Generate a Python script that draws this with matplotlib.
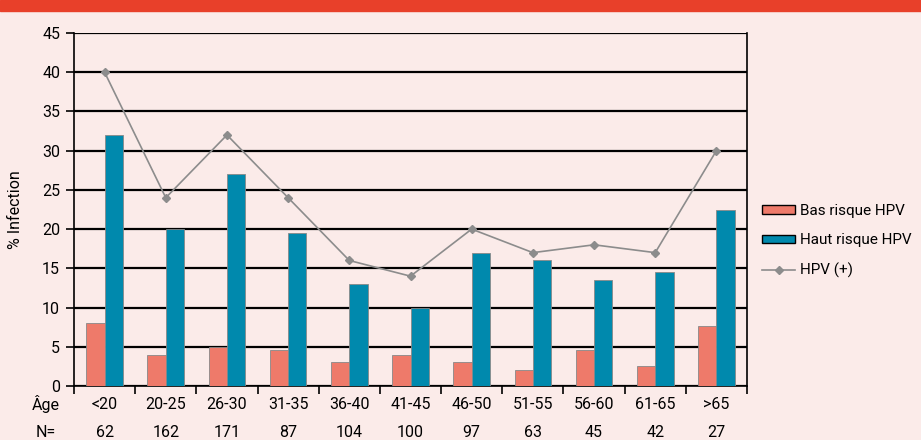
import numpy as np
import matplotlib.pyplot as plt
from matplotlib.patches import Rectangle
from matplotlib.lines import Line2D
import matplotlib.transforms as mtransforms

plt.rcParams['font.family'] = ['Roboto', 'DejaVu Sans']

ages = ['<20', '20-25', '26-30', '31-35', '36-40', '41-45', '46-50', '51-55', '56-60', '61-65', '>65']
n_vals = ['62', '162', '171', '87', '104', '100', '97', '63', '45', '42', '27']
bas_risque = [8, 4, 5, 4.6, 3, 4, 3, 2, 4.6, 2.6, 7.6]
haut_risque = [32, 20, 27, 19.5, 13, 10, 17, 16, 13.5, 14.5, 22.5]
hpv_pos = [40, 24, 32, 24, 16, 14, 20, 17, 18, 17, 30]

bg = '#fbebe9'
c_bas = '#ee7a6a'
c_haut = '#0089ad'
c_line = '#8c8c8c'

fig = plt.figure(figsize=(9.21, 4.40), dpi=100, facecolor=bg)
# red banner at top
fig.patches.append(Rectangle((0, 1 - 11 / 440), 1, 11 / 440, transform=fig.transFigure,
                             color='#e8402a', zorder=0))

ax = fig.add_axes([74 / 921, 1 - 386 / 440, (747 - 74) / 921, (386 - 33) / 440])
ax.set_facecolor(bg)

x = np.arange(len(ages))
w = 0.3
ax.bar(x - w / 2, bas_risque, w, color=c_bas, edgecolor='#888888', linewidth=0.6, zorder=3)
ax.bar(x + w / 2, haut_risque, w, color=c_haut, edgecolor='#888888', linewidth=0.6, zorder=3)
ax.plot(x, hpv_pos, color=c_line, linewidth=1.2, marker='D', markersize=4,
        markerfacecolor=c_line, markeredgecolor=c_line, zorder=4)

ax.set_xlim(-0.5, len(ages) - 0.5)
ax.set_ylim(0, 45)
ax.set_yticks(np.arange(0, 46, 5))
ax.yaxis.grid(True, color='black', linewidth=1.6, zorder=1)
ax.set_axisbelow(True)
ax.tick_params(axis='y', direction='out', length=6, width=1.2, labelsize=11.5, pad=4)

ax.set_xticks(np.arange(-0.5, len(ages), 1))
ax.set_xticklabels([])
ax.tick_params(axis='x', direction='out', length=6, width=1.2)

for s in ['left', 'right', 'bottom']:
    ax.spines[s].set_linewidth(1.2)
ax.spines['top'].set_visible(False)

trans = mtransforms.blended_transform_factory(ax.transData, fig.transFigure)
for i in range(len(ages)):
    ax.text(x[i], 1 - 404 / 440, ages[i], transform=trans, ha='center', va='center', fontsize=11.5)
    ax.text(x[i], 1 - 432 / 440, n_vals[i], transform=trans, ha='center', va='center', fontsize=11.5)
fig.text(46 / 921, 1 - 404 / 440, 'Âge', ha='center', va='center', fontsize=11.5)
fig.text(46 / 921, 1 - 432 / 440, 'N=', ha='center', va='center', fontsize=11.5)

ax.set_ylabel('% Infection', fontsize=11.5, labelpad=14)

handles = [Rectangle((0, 0), 1, 1, facecolor=c_bas, edgecolor='black', linewidth=1),
           Rectangle((0, 0), 1, 1, facecolor=c_haut, edgecolor='black', linewidth=1),
           Line2D([], [], color=c_line, linewidth=1.2, marker='D', markersize=4)]
fig.legend(handles, ['Bas risque HPV', 'Haut risque HPV', 'HPV (+)'],
           loc='center left', bbox_to_anchor=(748 / 921, 1 - 241 / 440), frameon=False,
           fontsize=11, handlelength=2.2, handleheight=0.5, handletextpad=0.3, labelspacing=1.0)

fig.savefig('out.png', dpi=100, facecolor=bg)
